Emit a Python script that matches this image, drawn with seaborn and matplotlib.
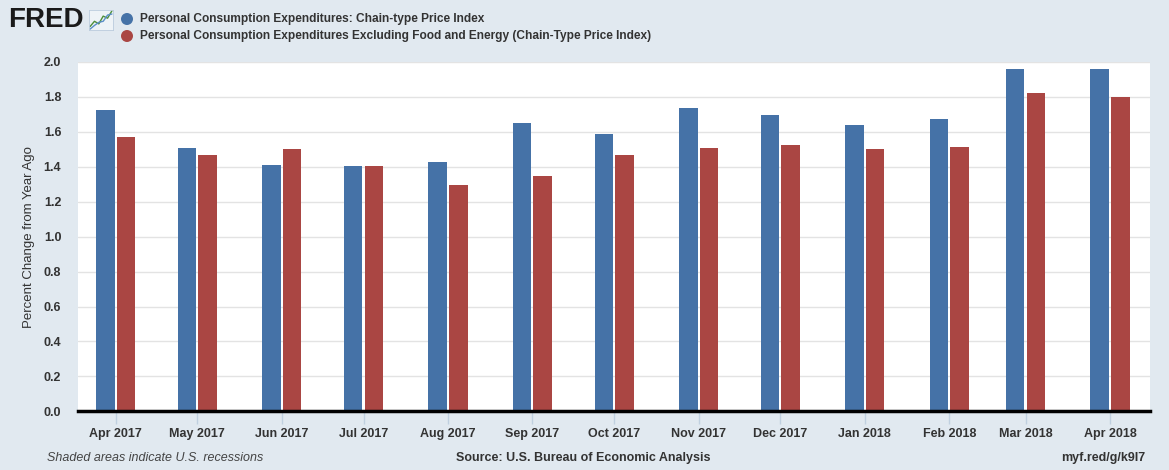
import datetime as dt
import matplotlib
matplotlib.use("Agg")
import matplotlib.pyplot as plt
import matplotlib.dates as mdates
from matplotlib.patches import Ellipse
import numpy as np
import pandas as pd
import seaborn as sns

# ---- data ----
months = ["2017-04-01", "2017-05-01", "2017-06-01", "2017-07-01", "2017-08-01",
          "2017-09-01", "2017-10-01", "2017-11-01", "2017-12-01", "2018-01-01",
          "2018-02-01", "2018-03-01", "2018-04-01"]
tick_labels = ["Apr 2017", "May 2017", "Jun 2017", "Jul 2017", "Aug 2017", "Sep 2017",
               "Oct 2017", "Nov 2017", "Dec 2017", "Jan 2018", "Feb 2018", "Mar 2018",
               "Apr 2018"]
pce = [1.727, 1.510, 1.413, 1.402, 1.430, 1.653, 1.590, 1.739, 1.699, 1.642, 1.676, 1.962, 1.962]
core = [1.573, 1.470, 1.499, 1.407, 1.293, 1.350, 1.465, 1.505, 1.522, 1.499, 1.516, 1.825, 1.802]
series_names = ["Personal Consumption Expenditures: Chain-type Price Index",
                "Personal Consumption Expenditures Excluding Food and Energy (Chain-Type Price Index)"]
y_ticks = [0.0, 0.2, 0.4, 0.6, 0.8, 1.0, 1.2, 1.4, 1.6, 1.8, 2.0]

BLUE = "#4572A7"
RED = "#AA4643"
BG = "#E1E9F0"
TXT = "#333333"

sns.set_theme(style="white")
plt.rcParams["font.family"] = ["Liberation Sans Narrow", "Liberation Sans", "DejaVu Sans"]

dnum = [mdates.date2num(dt.datetime.strptime(m, "%Y-%m-%d")) for m in months]
df = pd.DataFrame({
    "date": dnum * 2,
    "value": pce + core,
    "series": [series_names[0]] * len(pce) + [series_names[1]] * len(core),
})

fig = plt.figure(figsize=(11.69, 4.70), dpi=100, facecolor=BG)
ax = fig.add_axes([78 / 1169, 1 - 411.3 / 470, (1150 - 78) / 1169, (411.3 - 62) / 470])
ax.set_facecolor("white")

sns.barplot(data=df, x="date", y="value", hue="series", native_scale=True,
            palette=[BLUE, RED], width=0.54, gap=0.1, dodge=True, legend=False,
            saturation=1, ax=ax, errorbar=None, linewidth=0)

ax.set_xlim(dnum[0] - 13.8, dnum[-1] + 14.7)
ax.set_ylim(0, 2.0)
ax.set_yticks(y_ticks)
ax.set_yticklabels([f"{v:.1f}" for v in y_ticks], fontsize=9, color=TXT, fontweight="bold")
ax.set_xticks(dnum)
ax.set_xticklabels(tick_labels, fontsize=9, color=TXT, fontweight="bold")
ax.tick_params(axis="x", length=9, width=1, color="#C0D0E0", pad=3, bottom=True,
               direction="out")
ax.tick_params(axis="y", length=0, pad=12)
ax.grid(axis="y", color="#E3E3E3", linewidth=1)
ax.set_axisbelow(True)
for s in ["top", "right", "left"]:
    ax.spines[s].set_visible(False)
ax.spines["bottom"].set_color("black")
ax.spines["bottom"].set_linewidth(2.5)
ax.set_xlabel("")
ax.set_ylabel("Percent Change from Year Ago", fontsize=9.5, color=TXT, labelpad=6)

# ---- header ----
fig.text(8 / 1169, 1 - 20 / 470, "FRED", fontsize=20, fontweight="heavy", color="#1a1a1a",
         va="center", ha="left")
icon = fig.add_axes([89 / 1169, 1 - 30 / 470, 24 / 1169, 20 / 470])
icon.set_facecolor("#EEF3F7")
icon.plot([0, 1, 2, 3, 4, 5], [1, 2, 1.5, 3, 2.6, 4], color="#4E8F3A", lw=1)
icon.plot([0, 1, 2, 3, 4, 5], [0.5, 1.2, 1.8, 2.0, 3.2, 3.4], color="#5B8FC8", lw=1)
icon.set_xticks([]); icon.set_yticks([])
for s in icon.spines.values():
    s.set_color("#BBCCDD"); s.set_linewidth(0.6)

for i, (name, col) in enumerate(zip(series_names, [BLUE, RED])):
    y = 1 - (19 + 17 * i) / 470
    fig.patches.append(Ellipse((127 / 1169, y), 12 / 1169, 12 / 470, transform=fig.transFigure,
                               facecolor=col, edgecolor="none"))
    fig.text(140 / 1169, y, name, fontsize=8.6, color=TXT, fontweight="bold",
             va="center", ha="left")

# ---- footer ----
fig.text(47 / 1169, 1 - 458 / 470, "Shaded areas indicate U.S. recessions", fontsize=9,
         style="italic", color="#444444", va="center", ha="left")
fig.text(583 / 1169, 1 - 458 / 470, "Source: U.S. Bureau of Economic Analysis", fontsize=9,
         fontweight="bold", color=TXT, va="center", ha="center")
fig.text(1145 / 1169, 1 - 458 / 470, "myf.red/g/k9I7", fontsize=9, fontweight="bold",
         color=TXT, va="center", ha="right")

fig.savefig("out.png", dpi=100, facecolor=BG)
